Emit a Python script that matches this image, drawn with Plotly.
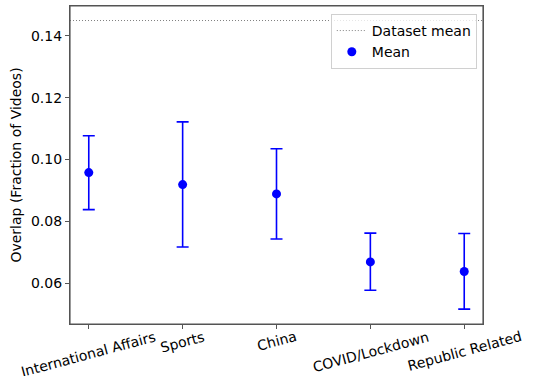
import plotly.graph_objects as go

# data
categories = ["International Affairs", "Sports", "China", "COVID/Lockdown", "Republic Related"]
means = [0.0958, 0.0919, 0.0889, 0.0669, 0.0638]
err_plus = [0.0119, 0.0203, 0.0146, 0.0093, 0.0123]
err_minus = [0.0120, 0.0202, 0.0146, 0.0092, 0.0122]
dataset_mean = 0.145

x_pos = list(range(len(categories)))
x_range = [-0.2, len(categories) - 0.8]
y_range = [0.0468, 0.1497]

fig = go.Figure()

fig.add_trace(go.Scatter(
    x=x_range, y=[dataset_mean, dataset_mean],
    mode="lines", name="Dataset mean",
    line=dict(color="gray", width=1, dash="1px,2px"),
))

fig.add_trace(go.Scatter(
    x=x_pos, y=means, mode="markers", name="Mean",
    marker=dict(color="blue", size=9),
    error_y=dict(type="data", symmetric=False, array=err_plus, arrayminus=err_minus,
                 color="blue", thickness=1.6, width=6),
))

# category labels, rotated and centred under each tick like matplotlib does
for xp, cat in zip(x_pos, categories):
    fig.add_annotation(x=xp, y=0, xref="x", yref="paper", text=cat,
                       textangle=-15, showarrow=False, xanchor="center", yanchor="top",
                       yshift=-2, font=dict(size=14))

# axes frame
fig.add_shape(type="rect", xref="paper", yref="paper", x0=0, y0=0, x1=1, y1=1,
              line=dict(color="#555", width=1.2), layer="above")

fig.update_layout(
    width=538, height=376,
    margin=dict(l=70, r=55, t=6, b=52),
    paper_bgcolor="white", plot_bgcolor="white",
    font=dict(family="DejaVu Sans", size=14, color="black"),
    showlegend=True,
    legend=dict(x=0.985, y=0.975, xanchor="right", yanchor="top",
                bgcolor="rgba(255,255,255,0.8)", bordercolor="#d0d0d0", borderwidth=1,
                font=dict(size=14)),
)

fig.update_xaxes(
    range=x_range, tickvals=x_pos, showticklabels=False, automargin=False,
    showline=True, linecolor="#555", linewidth=1.2, mirror=True,
    ticks="outside", ticklen=4, tickcolor="#555", showgrid=False, zeroline=False,
)
fig.update_yaxes(
    range=y_range, tickvals=[0.06, 0.08, 0.10, 0.12, 0.14], tickformat=".2f",
    automargin=False,
    title=dict(text="Overlap (Fraction of Videos)", standoff=6, font=dict(size=14)),
    showline=True, linecolor="#555", linewidth=1.2, mirror=True,
    ticks="outside", ticklen=4, tickcolor="#555", showgrid=False, zeroline=False,
)

# drop the browser's default 8px body margin so the figure sits at the corner
fig.write_html("out.html", config={"displayModeBar": False},
               post_script="document.body.style.margin='0';")
